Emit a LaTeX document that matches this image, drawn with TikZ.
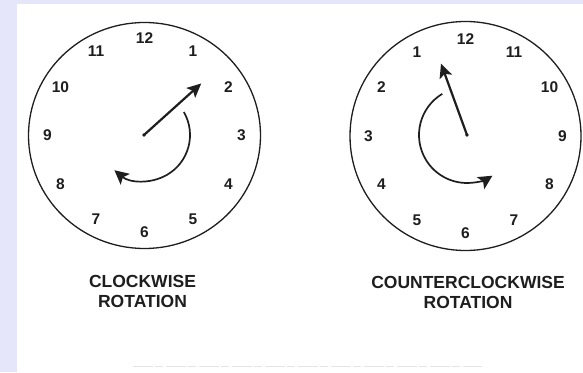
\documentclass[tikz,border=0pt]{standalone}
\usepackage{fontspec}
\setmainfont{Liberation Sans}
\usetikzlibrary{arrows.meta,calc}
\definecolor{framebg}{RGB}{230,230,250}
\definecolor{ink}{RGB}{30,30,30}
\tikzset{
  dial/.style={ink, line width=1.3pt},
  hand/.style={ink, line width=2.2pt, -{Stealth[length=14pt,width=13pt,inset=3pt]}},
  turn/.style={ink, line width=1.7pt, -{Stealth[length=14pt,width=14pt,inset=3pt]}},
  digit/.style={ink, font=\fontsize{15.5}{15.5}\selectfont\bfseries, inner sep=0pt},
  caption/.style={ink, font=\fontsize{17.5}{20}\selectfont\bfseries, align=center, inner sep=0pt}
}
\begin{document}
\begin{tikzpicture}[x=1pt, y=1pt]
  % Frame
  \fill[framebg] (0,0) rectangle (583,372);
  \fill[white] (16.5,0) rectangle (583,368);
  \useasboundingbox (0,0) rectangle (583,372);

  % Clockwise dial
  \coordinate (cwc) at (144.5,236.5);
  \draw[dial] (cwc) ellipse [x radius=116, y radius=113];
  \foreach \n in {1,...,12}
    \node[digit] (cw\n) at ($(cwc)+({90-30*\n}:97)$) {\n};
  \coordinate (cwdot) at (144,237);
  \coordinate (cwtip) at ($(cwdot)+(42:77)$);
  \fill[ink] (cwdot) circle (1.8);
  \draw[hand] (cwdot) -- (cwtip);
  \draw[turn] ($(cwdot)+(30:46)$) arc [start angle=30, end angle=-130, radius=46];
  \node[caption] (cwlabel) at (142.5,81) {CLOCKWISE\\ROTATION};

  % Counterclockwise dial
  \coordinate (ccwc) at (465.5,236);
  \draw[dial] (ccwc) ellipse [x radius=115.5, y radius=114.5];
  \foreach \n in {1,...,12}
    \node[digit] (ccw\n) at ($(ccwc)+({90+30*\n}:97)$) {\n};
  \coordinate (ccwdot) at (467,237);
  \coordinate (ccwtip) at ($(ccwdot)+(110:76)$);
  \fill[ink] (ccwdot) circle (1.8);
  \draw[hand] (ccwdot) -- (ccwtip);
  \draw[turn] ($(ccwdot)+(121:48)$) arc [start angle=121, end angle=302, radius=48];
  \node[caption] (ccwlabel) at (468,79.5) {COUNTERCLOCKWISE\\ROTATION};

  % Cut-off caption line
  \draw[black!10, line width=1pt, dash pattern=on 20pt off 2pt on 8pt off 3pt] (133,6) -- (482,6);
\end{tikzpicture}
\end{document}
